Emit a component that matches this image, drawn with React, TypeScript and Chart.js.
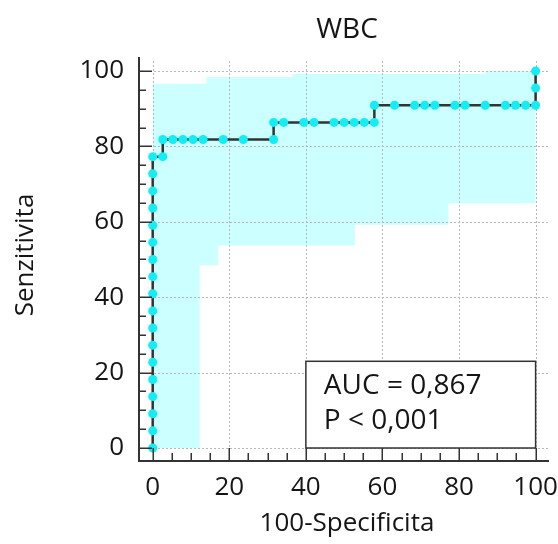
import React, { useEffect, useRef } from 'react';
import { Chart, registerables } from 'chart.js';

Chart.register(...registerables);

const TITLE = 'WBC';
const X_TITLE = '100-Specificita';
const Y_TITLE = 'Senzitivita';
const BOX_LINES = ['AUC = 0,867', 'P < 0,001'];
const tickValues = [0, 20, 40, 60, 80, 100];
const minorTickValues = [5, 10, 15, 25, 30, 35, 45, 50, 55, 65, 70, 75, 85, 90, 95];

// ROC curve points (100-Specificity, Sensitivity)
const rocX = [
  0, 0, 0, 0, 0, 0, 0, 0, 0, 0, 0, 0, 0, 0, 0, 0, 0, 0,
  2.63, 2.63, 5.26, 7.89, 10.53, 13.16, 18.42, 23.68, 31.58,
  31.58, 34.21, 39.47, 42.11, 47.37, 50.0, 52.63, 55.26, 57.89,
  57.89, 63.16, 68.42, 71.05, 73.68, 78.95, 81.58, 86.84, 92.11, 94.74, 97.37, 100,
  100, 100,
];
const rocY = [
  0, 4.55, 9.09, 13.64, 18.18, 22.73, 27.27, 31.82, 36.36, 40.91, 45.45, 50.0, 54.55, 59.09, 63.64, 68.18, 72.73, 77.27,
  77.27, 81.82, 81.82, 81.82, 81.82, 81.82, 81.82, 81.82, 81.82,
  86.36, 86.36, 86.36, 86.36, 86.36, 86.36, 86.36, 86.36, 86.36,
  90.91, 90.91, 90.91, 90.91, 90.91, 90.91, 90.91, 90.91, 90.91, 90.91, 90.91, 90.91,
  95.45, 100,
];

// Confidence band
const upperX = [0, 14.1, 14.1, 36.5, 36.5, 87, 87, 100];
const upperY = [96.6, 96.6, 98.4, 98.4, 99.2, 99.2, 100, 100];
const lowerX = [0, 12.3, 12.3, 17.1, 17.1, 52.8, 52.8, 77.2, 77.2, 100];
const lowerY = [0, 0, 48.5, 48.5, 53.7, 53.7, 59.2, 59.2, 64.9, 64.9];

const FONT = '"Open Sans", "Noto Sans", sans-serif';
const TEXT_COLOR = '#151515';
const AXIS_COLOR = '#333333';

const decorPlugin = {
  id: 'decor',
  beforeDatasetDraw(chart: any, args: any) {
    if (args.index !== 1) return;
    const { ctx, chartArea: a, scales } = chart;
    const x = scales.x;
    const y = scales.y;
    ctx.save();
    ctx.strokeStyle = '#b8b8b8';
    ctx.lineWidth = 1;
    ctx.setLineDash([2, 2]);
    for (const v of tickValues) {
      const px = Math.round(x.getPixelForValue(v)) + 0.5;
      ctx.beginPath();
      ctx.moveTo(px, a.top + 4);
      ctx.lineTo(px, a.bottom);
      ctx.stroke();
      const py = Math.round(y.getPixelForValue(v)) + 0.5;
      ctx.beginPath();
      ctx.moveTo(a.left, py);
      ctx.lineTo(a.right, py);
      ctx.stroke();
    }
    ctx.restore();
  },
  afterDatasetsDraw(chart: any) {
    const { ctx, chartArea: a, scales } = chart;
    const x = scales.x;
    const y = scales.y;
    ctx.save();
    // AUC box
    const bx0 = x.getPixelForValue(40);
    const bx1 = x.getPixelForValue(100);
    const by0 = y.getPixelForValue(23);
    const by1 = y.getPixelForValue(0);
    ctx.fillStyle = '#ffffff';
    ctx.fillRect(bx0, by0, bx1 - bx0, by1 - by0);
    ctx.strokeStyle = AXIS_COLOR;
    ctx.lineWidth = 1.5;
    ctx.strokeRect(bx0, by0, bx1 - bx0, by1 - by0);
    ctx.fillStyle = TEXT_COLOR;
    ctx.font = `28px ${FONT}`;
    ctx.textAlign = 'left';
    ctx.textBaseline = 'alphabetic';
    ctx.fillText(BOX_LINES[0], bx0 + 18, by0 + 33);
    ctx.fillText(BOX_LINES[1], bx0 + 18, by0 + 68);

    // axes
    ctx.strokeStyle = AXIS_COLOR;
    ctx.lineWidth = 2;
    ctx.beginPath();
    ctx.moveTo(a.left + 1, a.top);
    ctx.lineTo(a.left + 1, a.bottom + 1);
    ctx.lineTo(a.right, a.bottom + 1);
    ctx.stroke();

    ctx.lineWidth = 1.5;
    for (const v of tickValues) {
      const py = Math.round(y.getPixelForValue(v)) + 0.25;
      ctx.beginPath();
      ctx.moveTo(a.left, py);
      ctx.lineTo(a.left + 14, py);
      ctx.stroke();
      const px = Math.round(x.getPixelForValue(v)) + 0.25;
      ctx.beginPath();
      ctx.moveTo(px, a.bottom);
      ctx.lineTo(px, a.bottom - 12);
      ctx.stroke();
    }
    for (const v of minorTickValues) {
      const py = Math.round(y.getPixelForValue(v)) + 0.25;
      ctx.beginPath();
      ctx.moveTo(a.left, py);
      ctx.lineTo(a.left + 8, py);
      ctx.stroke();
      const px = Math.round(x.getPixelForValue(v)) + 0.25;
      ctx.beginPath();
      ctx.moveTo(px, a.bottom);
      ctx.lineTo(px, a.bottom - 7);
      ctx.stroke();
    }
    ctx.restore();
  },
  afterDraw(chart: any) {
    const { ctx } = chart;
    ctx.save();
    ctx.fillStyle = TEXT_COLOR;
    ctx.textAlign = 'center';
    ctx.textBaseline = 'alphabetic';
    ctx.font = `28px ${FONT}`;
    ctx.fillText(TITLE, 347, 38);
    ctx.font = `26px ${FONT}`;
    ctx.fillText(X_TITLE, 347, 531);
    ctx.translate(33, 255);
    ctx.rotate(-Math.PI / 2);
    ctx.fillText(Y_TITLE, 0, 0);
    ctx.restore();
  },
};

export default function App() {
  const canvasRef = useRef<HTMLCanvasElement | null>(null);

  useEffect(() => {
    const canvas = canvasRef.current;
    if (!canvas) return;
    const band = [
      ...upperX.map((v, i) => ({ x: v, y: upperY[i] })),
      ...lowerX.map((v, i) => ({ x: v, y: lowerY[i] })).reverse(),
    ];
    const roc = rocX.map((v, i) => ({ x: v, y: rocY[i] }));
    const tickFont = { family: FONT, size: 26 };
    const chart = new Chart(canvas, {
      type: 'line',
      data: {
        datasets: [
          {
            data: band,
            fill: 'shape',
            backgroundColor: '#ccffff',
            borderWidth: 0,
            borderColor: 'rgba(0,0,0,0)',
            pointRadius: 0,
            tension: 0,
            order: 1,
          },
          {
            data: roc,
            fill: false,
            borderColor: '#333333',
            borderWidth: 2.5,
            pointRadius: 4.5,
            pointBorderWidth: 0,
            pointBackgroundColor: '#12eef4',
            pointBorderColor: '#12eef4',
            tension: 0,
            order: 0,
          },
        ],
      } as any,
      options: {
        animation: false,
        responsive: false,
        devicePixelRatio: 1,
        layout: { padding: { top: 57, right: 9, bottom: 0, left: 0 } },
        plugins: {
          legend: { display: false },
          tooltip: { enabled: false },
          title: { display: false },
        },
        scales: {
          x: {
            type: 'linear',
            min: -3.84,
            max: 103.5,
            grid: { display: false, drawTicks: false },
            border: { display: false },
            ticks: { font: tickFont, color: TEXT_COLOR, padding: 12, maxRotation: 0, autoSkip: false },
            afterBuildTicks: (s: any) => {
              s.ticks = tickValues.map((v) => ({ value: v }));
            },
            afterFit: (s: any) => {
              s.height = 84;
              s.paddingLeft = 0;
              s.paddingRight = 0;
            },
          },
          y: {
            type: 'linear',
            min: -3.18,
            max: 103.7,
            grid: { display: false, drawTicks: false },
            border: { display: false },
            ticks: { font: tickFont, color: TEXT_COLOR, padding: 14, autoSkip: false },
            afterBuildTicks: (s: any) => {
              s.ticks = tickValues.map((v) => ({ value: v }));
            },
            afterFit: (s: any) => {
              s.width = 138;
              s.paddingTop = 0;
              s.paddingBottom = 0;
            },
          },
        },
      } as any,
      plugins: [decorPlugin],
    });
    return () => chart.destroy();
  }, []);

  return (
    <div style={{ position: 'absolute', left: 0, top: 0, width: 558, height: 544, background: '#fff' }}>
      <canvas ref={canvasRef} width={558} height={544} style={{ display: 'block', width: 558, height: 544 }} />
    </div>
  );
}
